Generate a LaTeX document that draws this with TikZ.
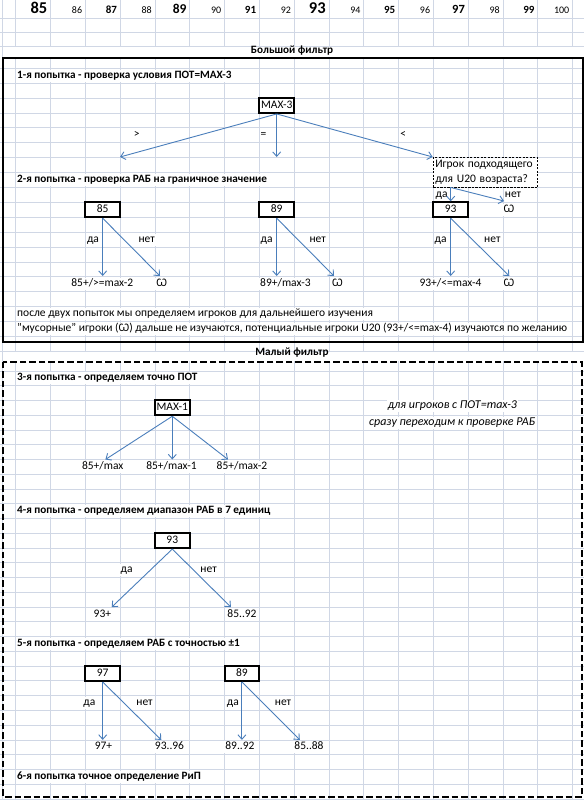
\documentclass[tikz,border=0pt]{standalone}
\usepackage{fontspec}
\setmainfont{Carlito}
\usetikzlibrary{arrows.meta}
\newcommand\fsz[1]{\fontsize{#1}{#1}\selectfont}
\definecolor{gridc}{HTML}{D0D7E5}
\definecolor{arrc}{HTML}{4A7EBB}
\tikzset{
 tx/.style={font=\fsz{11.5}, fill=white, inner xsep=1pt, inner ysep=0pt, minimum height=12pt, text height=7.5pt, text depth=2.2pt},
 txb/.style={tx, font=\fsz{11.2}\bfseries},
 txi/.style={tx, font=\fsz{12}\itshape},
 bx/.style={draw=black, line width=2pt, fill=white, minimum width=34.8pt, minimum height=14.9pt, inner sep=0pt, font=\fsz{11.5}, text height=7.5pt, text depth=2.2pt},
 arr/.style={draw=arrc, line width=0.9pt, -{Straight Barb[length=4.5pt, width=8pt]}},
 hd/.style={anchor=base east, inner sep=0pt},
 hdb/.style={hd, font=\fsz{11}\bfseries},
 hdr/.style={hd, font=\fsz{10}},
 gline/.style={draw=gridc, line width=0.8pt},
}
\begin{document}
\begin{tikzpicture}[x=1pt, y=-1pt]
\useasboundingbox (0,0) rectangle (584,800);
\fill[white] (0,0) rectangle (584,800);
% grid
\draw[gline] (2.7,0) -- (2.7,800);
\foreach \j in {0,...,16} \draw[gline] ({15.7+34.8*\j},0) -- ({15.7+34.8*\j},800);
\foreach \yy in {18,32.3,46.6} \draw[gline] (0,\yy) -- (584,\yy);
\foreach \k in {0,...,19} \draw[gline] (0,{68.25+14.9*\k}) -- (584,{68.25+14.9*\k});
\foreach \k in {0,...,29} \draw[gline] (0,{370.9+14.76*\k}) -- (584,{370.9+14.76*\k});
\fill[white] (4,47.1) rectangle (584,57.6);
\fill[white] (4,351.9) rectangle (584,361);
% header numbers
\node[hd, font=\fsz{16.5}\bfseries] (h85) at (47.5,13.8) {85};
\node[hdr] (h86) at (82.3,13.8) {86};
\node[hdb] (h87) at (117.1,13.8) {87};
\node[hdr] (h88) at (151.9,13.8) {88};
\node[hd, font=\fsz{13.5}\bfseries] (h89) at (186.7,13.8) {89};
\node[hdr] (h90) at (221.5,13.8) {90};
\node[hdb] (h91) at (256.3,13.8) {91};
\node[hdr] (h92) at (291.1,13.8) {92};
\node[hd, font=\fsz{16.5}\bfseries] (h93) at (325.9,13.8) {93};
\node[hdr] (h94) at (360.7,13.8) {94};
\node[hdb] (h95) at (395.5,13.8) {95};
\node[hdr] (h96) at (430.3,13.8) {96};
\node[hd, font=\fsz{12.5}\bfseries] (h97) at (465.1,13.8) {97};
\node[hdr] (h98) at (499.9,13.8) {98};
\node[hdb] (h99) at (534.7,13.8) {99};
\node[hdr] (h100) at (569.5,13.8) {100};
% frames
\node[txb, fill=none] (tbig) at (292,50.5) {Большой фильтр};
\draw[line width=2pt] (3.3,58.3) rectangle (582.5,341.7);
\node[txb, fill=none] (tsmall) at (292,353.3) {Малый фильтр};
\draw[line width=2pt, dash pattern=on 6.5pt off 3pt] (3.3,361.7) rectangle (581.8,797);
% ---------- big filter ----------
\node[txb, anchor=west] (s1) at (16,75.7) {1-я попытка - проверка условия ПОТ=MAX-3};
\node[bx] (max3) at (276.7,105.5) {MAX-3};
\node[tx] (lgt) at (136.7,135.3) {>};
\node[tx] (leq) at (263.5,135.3) {=};
\node[tx] (llt) at (403.3,135.3) {<};
\coordinate (m3l) at (120,157);
\coordinate (m3m) at (276.7,157);
\coordinate (m3r) at (432.7,157);
\node[txb, anchor=west] (s2) at (16,180) {2-я попытка - проверка РАБ на граничное значение};
\node[draw=black, line width=0.9pt, dash pattern=on 2.2pt off 1.3pt, fill=white, minimum width=104.4pt, minimum height=29.8pt, inner xsep=2pt, inner ysep=0pt, align=left, text width=100.4pt, font=\fontsize{11.5}{14.9}\selectfont] (igrok) at (485.5,172.55) {Игрок подходящего\\для U20 возраста?};
\node[tx] (igda) at (441.7,194.9) {да};
\node[tx] (ignet) at (513,194.9) {нет};
\coordinate (igs) at (450.7,187.45);
\coordinate (igw) at (504,201);
% boxes row
\node[bx] (b85) at (102.7,209.8) {85};
\node[bx] (b89) at (276.7,209.8) {89};
\node[bx] (b93) at (450.7,209.8) {93};
\node[tx] (om0) at (509,209.8) {Ѡ};
\node[tx] (da85) at (93,239.6) {да};
\node[tx] (net85) at (146.7,239.6) {нет};
\node[tx] (da89) at (266.7,239.6) {да};
\node[tx] (net89) at (317.7,239.6) {нет};
\node[tx] (da93) at (440.7,239.6) {да};
\node[tx] (net93) at (492.3,239.6) {нет};
\coordinate (e85a) at (102.7,276);
\coordinate (e85b) at (160,276);
\coordinate (e89a) at (276.7,276);
\coordinate (e89b) at (334,276);
\coordinate (e93a) at (450.7,276);
\coordinate (e93b) at (509.3,276);
\node[tx] (r85) at (102.3,284.3) {85+/>=max-2};
\node[tx] (om85) at (161.7,284.3) {Ѡ};
\node[tx, anchor=west] (r89) at (259,284.3) {89+/max-3};
\node[tx] (om89) at (337.5,284.3) {Ѡ};
\node[tx] (r93) at (450.5,284.3) {93+/<=max-4};
\node[tx] (om93) at (509,284.3) {Ѡ};
\node[tx, anchor=west] (n1) at (16,314.1) {после двух попыток мы определяем игроков для дальнейшего изучения};
\node[tx, anchor=west] (n2) at (16,329) {"мусорные" игроки (Ѡ) дальше не изучаются, потенциальные игроки U20 (93+/<=max-4) изучаются по желанию};
\draw[arr] (max3.south) -- (m3l);
\draw[arr] (max3.south) -- (m3m);
\draw[arr] (max3.south) -- (m3r);
\draw[arr] (igs) -- (b93.north);
\draw[arr] (igs) -- (igw);
\draw[arr] (b85.south) -- (e85a);
\draw[arr] (b85.south) -- (e85b);
\draw[arr] (b89.south) -- (e89a);
\draw[arr] (b89.south) -- (e89b);
\draw[arr] (b93.south) -- (e93a);
\draw[arr] (b93.south) -- (e93b);
% ---------- small filter ----------
\node[txb, anchor=west] (s3) at (16,378.3) {3-я попытка - определяем точно ПОТ};
\node[bx] (max1) at (172.3,407.8) {MAX-1};
\node[txi] (it1) at (452.5,406) {для игроков с ПОТ=max-3};
\node[txi] (it2) at (452.2,423) {сразу переходим к проверке РАБ};
\coordinate (m1l) at (105.4,459.5);
\coordinate (m1m) at (172.3,459.5);
\coordinate (m1r) at (228,459.5);
\node[tx] (r1a) at (102.7,466.8) {85+/max};
\node[tx] (r1b) at (171.5,466.8) {85+/max-1};
\node[tx] (r1c) at (241.9,466.8) {85+/max-2};
\node[txb, anchor=west] (s4) at (16,511.1) {4-я попытка - определяем диапазон РАБ в 7 единиц};
\node[bx] (b93l) at (172.3,540.6) {93};
\node[tx] (da4) at (126.6,570.2) {да};
\node[tx] (net4) at (208.6,570.2) {нет};
\coordinate (e4a) at (111.7,607.1);
\coordinate (e4b) at (230.9,607.1);
\node[tx] (r4a) at (102.4,614.4) {93+};
\node[tx] (r4b) at (242,614.4) {85..92};
\node[txb, anchor=west] (s5) at (16,644) {5-я попытка - определяем РАБ с точностью ±1};
\node[bx] (b97) at (102.7,673.5) {97};
\node[bx] (b89l) at (241.9,673.5) {89};
\node[tx] (da97) at (89.4,703) {да};
\node[tx] (net97) at (144.5,703) {нет};
\node[tx] (da89l) at (232.8,703) {да};
\node[tx] (net89l) at (283,703) {нет};
\coordinate (e97a) at (102.7,739.9);
\coordinate (e97b) at (161.3,739.9);
\coordinate (e89la) at (241.9,739.9);
\coordinate (e89lb) at (299.8,739.9);
\node[tx] (r97a) at (103.5,747.3) {97+};
\node[tx] (r97b) at (169.5,747.3) {93..96};
\node[tx] (r89a) at (239.9,747.3) {89..92};
\node[tx] (r89b) at (309,747.3) {85..88};
\node[txb, anchor=west] (s6) at (16,776.8) {6-я попытка точное определение РиП};
\draw[arr] (max1.south) -- (m1l);
\draw[arr] (max1.south) -- (m1m);
\draw[arr] (max1.south) -- (m1r);
\draw[arr] (b93l.south) -- (e4a);
\draw[arr] (b93l.south) -- (e4b);
\draw[arr] (b97.south) -- (e97a);
\draw[arr] (b97.south) -- (e97b);
\draw[arr] (b89l.south) -- (e89la);
\draw[arr] (b89l.south) -- (e89lb);
\end{tikzpicture}
\end{document}
